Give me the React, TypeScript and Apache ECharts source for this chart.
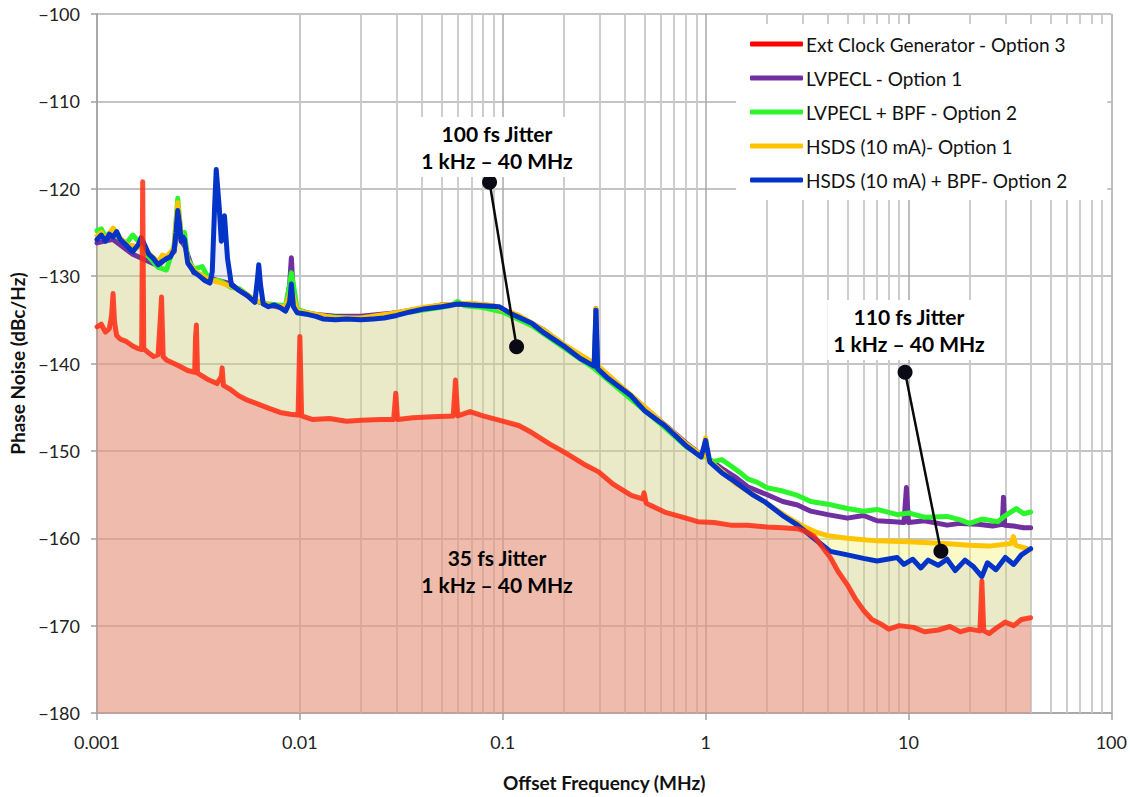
import React, { useEffect, useRef } from "react";
import * as echarts from "echarts";

type Pt = [number, number];

const SERIES_NAMES = [
  "Ext Clock Generator - Option 3",
  "LVPECL - Option 1",
  "LVPECL + BPF - Option 2",
  "HSDS (10 mA)- Option 1",
  "HSDS (10 mA) + BPF- Option 2",
];

const X_TICK_LABELS = ["0.001", "0.01", "0.1", "1", "10", "100"];
const MINOR_MULTIPLIERS = [2, 3, 4, 5, 6, 7, 8, 9];
const DECADES = [0.001, 0.01, 0.1, 1, 10];

const extClock: Pt[] = [
  [0.001, -135.8], [0.00105, -135.5], [0.0011, -136.4], [0.00115, -136.0], [0.00118, -134.5],
  [0.0012, -132.0], [0.00122, -135.2], [0.00125, -136.8], [0.0013, -137.2], [0.0014, -137.5],
  [0.0015, -138.0], [0.0016, -138.3], [0.00166, -138.4], [0.00168, -119.2], [0.0017, -138.3],
  [0.0018, -138.8], [0.0019, -139.2], [0.002, -139.0], [0.00205, -135.0], [0.00208, -132.4],
  [0.00212, -139.2], [0.0022, -139.6], [0.0025, -140.2], [0.0028, -140.8], [0.00303, -141.0],
  [0.00306, -137.0], [0.00309, -135.6], [0.00313, -141.1], [0.0035, -141.8], [0.0039, -142.3],
  [0.0041, -141.5], [0.00414, -140.5], [0.0042, -142.5], [0.0045, -142.9], [0.005, -143.7],
  [0.0054, -144.1], [0.006, -144.5], [0.007, -145.1], [0.008, -145.6], [0.009, -145.8],
  [0.0098, -145.9], [0.01, -136.9], [0.0102, -146.0], [0.0115, -146.4], [0.014, -146.3],
  [0.017, -146.6], [0.02, -146.5], [0.025, -146.4], [0.029, -146.4], [0.0297, -143.4],
  [0.0303, -146.4], [0.036, -146.2], [0.045, -146.1], [0.057, -146.0], [0.0585, -141.9],
  [0.06, -146.0], [0.069, -145.5], [0.08, -146.0], [0.1, -146.6], [0.12, -147.1],
  [0.139, -147.9], [0.17, -149.2], [0.203, -150.2], [0.25, -151.5], [0.297, -152.4],
  [0.35, -153.8], [0.43, -155.1], [0.49, -155.5], [0.497, -154.8], [0.51, -156.0],
  [0.628, -157.0], [0.8, -157.7], [0.916, -158.1], [1.1, -158.2], [1.33, -158.5],
  [1.61, -158.5], [2.0, -158.7], [2.4, -158.8], [2.84, -158.9], [3.1, -159.2],
  [3.43, -159.8], [3.7, -160.8], [4.12, -162.2], [4.5, -163.8], [4.99, -165.3],
  [5.5, -167.0], [6.03, -168.3], [6.6, -169.3], [7.3, -169.8], [8.0, -170.4],
  [9.0, -170.0], [10.6, -170.2], [12, -170.7], [14, -170.5], [16, -170.1],
  [18, -170.7], [20, -170.4], [22.5, -170.6], [23, -164.9], [23.5, -170.6],
  [25, -170.9], [27, -170.3], [30, -169.6], [33, -170.0], [36, -169.3], [40, -169.1],
];

const lvpecl: Pt[] = [
  [0.001, -126.2], [0.0012, -125.8], [0.0015, -127.5], [0.002, -128.8], [0.0022, -127.9],
  [0.0024, -127.2], [0.0025, -123.5], [0.0026, -126.0], [0.0027, -126.5], [0.003, -129.6],
  [0.0038, -130.4], [0.0046, -130.9], [0.005, -131.6], [0.006, -132.8], [0.007, -133.3],
  [0.0085, -133.7], [0.0089, -131.0], [0.00908, -127.9], [0.0093, -132.5], [0.0097, -134.0],
  [0.012, -134.4], [0.015, -134.6], [0.02, -134.6], [0.03, -134.2], [0.05, -133.3],
  [0.07, -133.2], [0.09, -133.4], [0.12, -134.6], [0.16, -136.2], [0.2, -137.9],
  [0.284, -140.1], [0.288, -133.7], [0.292, -140.4], [0.4, -143.1], [0.6, -146.6],
  [0.8, -149.1], [0.97, -150.6], [1.0, -148.8], [1.03, -150.9], [1.2, -152.0],
  [1.4, -153.0], [1.61, -154.1], [2.0, -155.0], [2.4, -155.8], [2.84, -156.2],
  [3.3, -156.9], [4.0, -157.3], [5.0, -157.7], [6.0, -157.4], [7.0, -158.0],
  [8.5, -158.1], [9.5, -158.2], [9.77, -154.2], [10.0, -158.2], [12, -158.0],
  [15.5, -158.5], [18, -158.3], [22, -158.4], [26, -158.6], [29, -158.4],
  [29.4, -155.3], [29.8, -158.5], [33, -158.6], [37, -158.8], [40, -158.8],
];

const lvpeclBpf: Pt[] = [
  [0.001, -124.8], [0.00105, -124.6], [0.0011, -125.5], [0.0012, -124.7], [0.0013, -125.8],
  [0.0014, -126.2], [0.0015, -125.3], [0.0016, -126.0], [0.0018, -127.8], [0.002, -129.0],
  [0.0022, -129.3], [0.0024, -126.5], [0.0025, -121.1], [0.0026, -125.5], [0.0027, -125.0],
  [0.0028, -128.0], [0.003, -129.2], [0.0033, -128.9], [0.0036, -130.5], [0.004, -130.5],
  [0.0046, -131.3], [0.005, -131.4], [0.006, -132.8], [0.007, -133.2], [0.0085, -133.4],
  [0.0089, -131.0], [0.00908, -129.6], [0.0093, -131.0], [0.0097, -133.8], [0.012, -134.5],
  [0.015, -134.7], [0.02, -134.9], [0.03, -134.3], [0.04, -133.9], [0.055, -133.4],
  [0.06, -132.9], [0.065, -133.4], [0.08, -133.6], [0.1, -134.1], [0.14, -135.7],
  [0.2, -138.2], [0.28, -140.5], [0.4, -143.5], [0.6, -146.9], [0.8, -149.5],
  [0.97, -150.7], [1.0, -149.5], [1.03, -151.0], [1.1, -151.2], [1.2, -151.0],
  [1.33, -151.7], [1.5, -152.6], [1.61, -153.2], [1.8, -153.6], [2.0, -154.2],
  [2.4, -154.6], [2.84, -155.1], [3.3, -155.8], [4.0, -156.1], [5.0, -156.6],
  [6.0, -156.9], [7.0, -156.7], [8.8, -157.3], [10, -157.1], [12, -157.6],
  [15.5, -157.5], [18, -157.9], [20, -158.3], [23, -157.8], [27.6, -158.1],
  [30, -157.4], [34, -156.6], [37, -157.2], [40, -157.0],
];

const hsds: Pt[] = [
  [0.001, -125.4], [0.00105, -125.0], [0.0011, -125.8], [0.0012, -124.5], [0.0013, -125.6],
  [0.0014, -126.4], [0.0016, -126.6], [0.0018, -127.4], [0.002, -128.4], [0.0021, -127.6],
  [0.0022, -127.8], [0.0024, -126.8], [0.00245, -124.0], [0.0025, -121.6], [0.00255, -123.5],
  [0.0026, -125.5], [0.0027, -125.8], [0.0028, -128.3], [0.003, -129.3], [0.0035, -130.3],
  [0.004, -130.7], [0.005, -131.5], [0.006, -132.7], [0.007, -133.3], [0.0085, -133.5],
  [0.00908, -131.5], [0.0097, -134.0], [0.012, -134.4], [0.015, -134.8], [0.02, -134.8],
  [0.03, -134.2], [0.04, -133.6], [0.05, -133.3], [0.07, -133.1], [0.09, -133.4],
  [0.12, -134.5], [0.16, -136.2], [0.2, -137.8], [0.284, -140.0], [0.288, -133.7],
  [0.292, -140.2], [0.4, -143.0], [0.6, -146.6], [0.8, -149.2], [0.97, -150.6],
  [1.0, -148.5], [1.03, -151.0], [1.4, -153.7], [2.0, -156.0], [2.5, -157.5],
  [3.0, -158.6], [3.5, -159.3], [4.0, -159.7], [5, -160.0], [7, -160.3],
  [10, -160.4], [15, -160.6], [20, -160.8], [25, -160.9], [32, -160.6],
  [32.9, -159.8], [33.8, -160.8], [36, -161.0], [40, -161.3],
];

const hsdsBpf: Pt[] = [
  [0.001, -125.8], [0.00105, -125.3], [0.0011, -126.0], [0.00115, -125.2], [0.0012, -125.5],
  [0.00125, -124.9], [0.0013, -125.8], [0.0014, -126.5], [0.0015, -127.2], [0.0016, -126.4],
  [0.00165, -125.6], [0.0017, -126.2], [0.0018, -127.5], [0.0019, -128.0], [0.002, -128.7],
  [0.0021, -128.3], [0.0022, -128.0], [0.0023, -127.8], [0.0024, -127.0], [0.00245, -125.0],
  [0.0025, -122.5], [0.00255, -124.0], [0.0026, -126.0], [0.00265, -125.5], [0.0027, -125.8],
  [0.0028, -128.5], [0.003, -129.5], [0.0032, -130.0], [0.0034, -130.5], [0.0036, -130.8],
  [0.0037, -129.5], [0.0038, -122.0], [0.00387, -117.8], [0.004, -122.0], [0.0041, -126.0],
  [0.00425, -123.1], [0.0044, -128.0], [0.0046, -131.0], [0.005, -131.6], [0.0055, -132.2],
  [0.006, -133.0], [0.0062, -130.0], [0.00627, -128.7], [0.0064, -131.0], [0.0066, -133.2],
  [0.007, -133.5], [0.0075, -133.3], [0.008, -133.6], [0.0085, -134.0], [0.0089, -133.0],
  [0.00908, -130.9], [0.0093, -133.5], [0.0097, -134.2], [0.011, -134.4], [0.012, -134.6],
  [0.013, -134.9], [0.015, -135.0], [0.017, -134.9], [0.02, -135.0], [0.023, -134.9],
  [0.026, -134.8], [0.03, -134.5], [0.035, -134.1], [0.04, -133.8], [0.05, -133.5],
  [0.06, -133.2], [0.07, -133.3], [0.08, -133.4], [0.096, -133.5], [0.11, -134.3],
  [0.139, -135.4], [0.16, -136.5], [0.18, -137.3], [0.203, -138.1], [0.24, -139.4],
  [0.282, -140.3], [0.288, -133.9], [0.294, -140.6], [0.33, -141.7], [0.429, -143.7],
  [0.5, -145.4], [0.628, -147.1], [0.8, -149.4], [0.95, -150.7], [1.0, -148.8],
  [1.05, -151.3], [1.2, -152.5], [1.33, -153.2], [1.7, -155.0], [1.95, -155.8],
  [2.4, -157.4], [2.84, -158.5], [3.5, -160.2], [4.12, -161.5], [5.0, -161.9],
  [6.0, -162.3], [7.0, -162.6], [8.79, -162.2], [9.5, -163.0], [10.5, -162.4],
  [11.5, -163.4], [12.5, -162.5], [14, -163.1], [15.5, -162.4], [17, -163.7],
  [19, -162.5], [21, -163.3], [23, -164.4], [24.5, -162.8], [27, -163.6],
  [30, -162.2], [33, -163.0], [36, -161.9], [40, -161.2],
];

const callout100: Pt[] = [[0.0861, -119.26], [0.117, -138.07]];
const callout110: Pt[] = [[9.62, -141.0], [14.45, -161.5]];

const FONT = "Lato, 'Open Sans', sans-serif";

function buildOption(): echarts.EChartsOption {
  const minorGrid: number[] = [];
  DECADES.forEach((d) => MINOR_MULTIPLIERS.forEach((m) => minorGrid.push(d * m)));

  const lineBase = (name: string, data: Pt[], color: string, z: number, extra: any = {}) => ({
    name,
    type: "line",
    data,
    showSymbol: false,
    symbol: "none",
    z,
    lineStyle: { color, width: 5, cap: "round", join: "round" },
    itemStyle: { color },
    silent: true,
    ...extra,
  });

  const annotationStyle = (text: string, withBg: boolean) => ({
    text,
    fontFamily: FONT,
    fontSize: 21,
    fontWeight: "bold",
    fill: "#000",
    align: "center",
    verticalAlign: "middle",
    lineHeight: 27,
    ...(withBg ? { backgroundColor: "#ffffff", padding: [3, 6] } : {}),
  });

  return {
    animation: false,
    backgroundColor: "#ffffff",
    textStyle: { fontFamily: FONT },
    grid: { left: 97, right: 14, top: 14, bottom: 77, containLabel: false },
    legend: {
      data: SERIES_NAMES,
      orient: "vertical",
      left: 736,
      top: 24,
      z: 20,
      padding: [10, 40, 10, 14],
      backgroundColor: "#ffffff",
      icon: "roundRect",
      itemWidth: 53,
      itemHeight: 5,
      itemGap: 14,
      selectedMode: false,
      textStyle: { fontFamily: FONT, fontSize: 19, color: "#111", lineHeight: 20, padding: [0, 0, 0, -2] },
    },
    xAxis: {
      type: "log",
      logBase: 10,
      min: 0.001,
      max: 100,
      name: "Offset Frequency (MHz)",
      nameLocation: "middle",
      nameGap: 60,
      nameTextStyle: { fontFamily: FONT, fontSize: 19, fontWeight: "bold", color: "#111" },
      axisLine: { show: true, onZero: false, lineStyle: { color: "#a0a0a0", width: 1.5 } },
      axisTick: { show: true, length: 7, lineStyle: { color: "#a0a0a0", width: 1.5 } },
      axisLabel: {
        fontFamily: FONT,
        fontSize: 18,
        color: "#222",
        margin: 20,
        formatter: (v: number) => X_TICK_LABELS[Math.round(Math.log10(v)) + 3] ?? String(v),
      },
      splitLine: { show: true, lineStyle: { color: "#a8a8a8", width: 1.5 } },
    },
    yAxis: {
      type: "value",
      min: -180,
      max: -100,
      interval: 10,
      name: "Phase Noise (dBc/Hz)",
      nameLocation: "middle",
      nameGap: 70,
      nameTextStyle: { fontFamily: FONT, fontSize: 19, fontWeight: "bold", color: "#111" },
      axisLine: { show: true, lineStyle: { color: "#a0a0a0", width: 1.5 } },
      axisTick: { show: true, length: 6, lineStyle: { color: "#a0a0a0", width: 1.5 } },
      axisLabel: {
        fontFamily: FONT,
        fontSize: 18,
        color: "#222",
        margin: 17,
        formatter: (v: number) => String(v).replace("-", "\u2212"),
      },
      splitLine: { show: true, lineStyle: { color: "#b0b0b0", width: 1.5 } },
    },
    series: [
      {
        name: "minor-grid",
        type: "line",
        data: [[0.001, -180]],
        symbol: "none",
        showSymbol: false,
        lineStyle: { opacity: 0 },
        z: 1,
        silent: true,
        markLine: {
          silent: true,
          z: 1,
          symbol: ["none", "none"],
          label: { show: false },
          lineStyle: { color: "#c8c8c8", width: 1.8, type: "solid" },
          data: minorGrid.map((v) => ({ xAxis: v })),
        },
      },
      lineBase(SERIES_NAMES[1], lvpecl, "#7030a0", 2),
      lineBase(SERIES_NAMES[2], lvpeclBpf, "#2cf52c", 2),
      lineBase(SERIES_NAMES[3], hsds, "#ffc400", 2, {
        areaStyle: { origin: "start", color: "rgba(244,240,125,0.6)" },
      }),
      lineBase(SERIES_NAMES[4], hsdsBpf, "#0433c8", 2, {
        areaStyle: { origin: "start", color: "rgba(80,80,205,0.13)" },
      }),
      lineBase(SERIES_NAMES[0], extClock, "#ff1a00", 2, {
        lineStyle: { color: "#ff2a10", width: 5, cap: "round", join: "round", opacity: 0.85 },
        itemStyle: { color: "#ff0000" },
        areaStyle: { origin: "start", color: "rgba(245,95,115,0.47)" },
      }),
      {
        name: "callout-100",
        type: "line",
        data: callout100,
        symbol: "circle",
        symbolSize: 15,
        showSymbol: true,
        itemStyle: { color: "#0a0a14" },
        lineStyle: { color: "#0a0a0a", width: 2.5 },
        z: 10,
        silent: true,
      },
      {
        name: "callout-110",
        type: "line",
        data: callout110,
        symbol: "circle",
        symbolSize: 15,
        showSymbol: true,
        itemStyle: { color: "#0a0a14" },
        lineStyle: { color: "#0a0a0a", width: 2.5 },
        z: 10,
        silent: true,
      },
    ] as any,
    graphic: [
      { type: "text", x: 497, y: 147, z: 100, style: annotationStyle("100 fs Jitter\n1 kHz \u2013 40 MHz", true) },
      { type: "text", x: 909, y: 330, z: 100, style: annotationStyle("110 fs Jitter\n1 kHz \u2013 40 MHz", true) },
      { type: "text", x: 497, y: 571, z: 100, style: annotationStyle("35 fs Jitter\n1 kHz \u2013 40 MHz", false) },
    ],
  } as echarts.EChartsOption;
}

export default function App() {
  const ref = useRef<HTMLDivElement>(null);
  useEffect(() => {
    if (!ref.current) return;
    const chart = echarts.init(ref.current, null, { renderer: "svg" });
    chart.setOption(buildOption());
    return () => chart.dispose();
  }, []);
  return (
    <div
      ref={ref}
      style={{ position: "fixed", left: 0, top: 0, width: 1130, height: 797, background: "#fff" }}
    />
  );
}
